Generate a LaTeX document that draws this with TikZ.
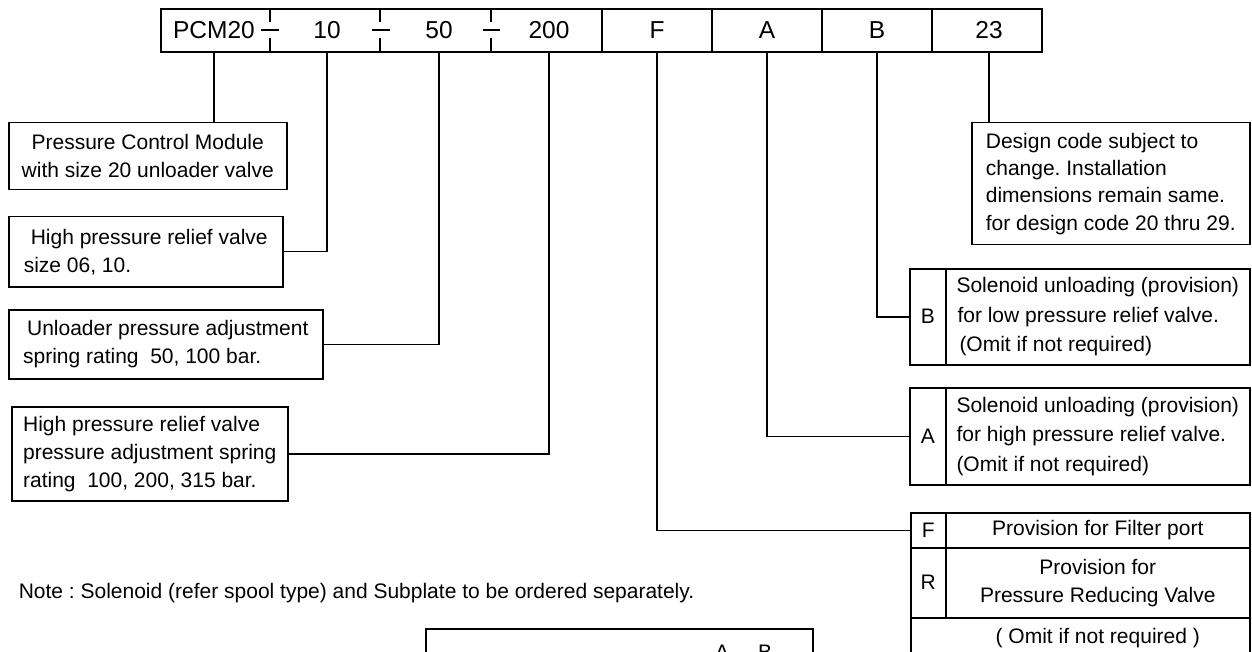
\documentclass[tikz,border=0pt]{standalone}
\usepackage{fontspec}
\setmainfont{Liberation Sans}
\usetikzlibrary{positioning, calc}
\frenchspacing

\tikzset{
  code/.style = {inner sep=0pt, minimum height=43pt, font=\fontsize{24.5}{28}\selectfont},
  infobox/.style = {draw, anchor=north west, inner sep=0pt, align=left},
  centerbox/.style = {draw, anchor=north west, inner sep=0pt, align=center},
  letterbox/.style = {draw, anchor=north west, inner sep=0pt},
  link/.style = {draw},
}

\begin{document}
\begin{tikzpicture}[x=1pt, y=-1pt, font=\fontsize{21}{28}\selectfont, line width=1.5pt]
	\useasboundingbox (0,0) rectangle (1252,652);
	\clip (0,0) rectangle (1252,652);

	% ordering code bar
	\draw (161,9) rectangle (1042,52);
	\draw (270,9) -- (270,22) (270,38) -- (270,52) (261,30) -- (279,30);
	\draw (380,9) -- (380,22) (380,38) -- (380,52) (372,30) -- (390,30);
	\draw (491,9) -- (491,22) (491,38) -- (491,52) (483,30) -- (500,30);
	\draw (602,9) -- (602,52);
	\draw (712,9) -- (712,52);
	\draw (822,9) -- (822,52);
	\draw (932,9) -- (932,52);

	\node[code] (cPCM) at (214,30.5) {PCM20};
	\node[code] (cHP)  at (327,30.5) {10};
	\node[code] (cUL)  at (439,30.5) {50};
	\node[code] (cSP)  at (549,30.5) {200};
	\node[code] (cF)   at (657,30.5) {F};
	\node[code] (cA)   at (767,30.5) {A};
	\node[code] (cB)   at (877,30.5) {B};
	\node[code] (cDC)  at (989,30.5) {23};

	% left hand boxes
	\node[centerbox, minimum width=278pt, minimum height=67pt] (PCM) at (8,122)
		{Pressure Control Module\\with size 20 unloader valve};
	\node[infobox, minimum width=274pt, minimum height=70pt] (HPRV) at (8,216)
		{\hspace*{7pt}High pressure relief valve\\size 06, 10.};
	\node[infobox, minimum width=314pt, minimum height=69pt] (ULP) at (8,309)
		{\hspace*{4pt}Unloader pressure adjustment\\spring rating\ \ 50, 100 bar.};
	\node[infobox, minimum width=276pt, minimum height=94pt] (HPSP) at (11,406)
		{High pressure relief valve\\pressure adjustment spring\\rating\ \ 100, 200, 315 bar.};

	% right hand boxes
	\node[infobox, minimum width=278pt, minimum height=122pt,
		font=\fontsize{21}{27.3}\selectfont] (DC) at (971,122)
		{Design code subject to\\change. Installation\\dimensions remain same.\\for design code 20 thru 29.};

	\node[letterbox, minimum width=36pt, minimum height=96pt] (LB) at (909,268) {B};
	\node[infobox, minimum width=304pt, minimum height=96pt,
		font=\fontsize{21}{29.5}\selectfont] (SB) at (945,268)
		{Solenoid unloading (provision)\\\hspace*{1pt}for low pressure relief valve.\\\hspace*{3pt}(Omit if not required)};

	\node[letterbox, minimum width=36pt, minimum height=97pt] (LA) at (909,387) {A};
	\node[infobox, minimum width=304pt, minimum height=97pt,
		font=\fontsize{21}{29.5}\selectfont] (SA) at (945,387)
		{Solenoid unloading (provision)\\for high pressure relief valve.\\(Omit if not required)};

	% filter / reducing valve table
	\node[letterbox, minimum width=35pt, minimum height=35pt] (LF) at (910,512) {F};
	\node[centerbox, minimum width=304pt, minimum height=35pt] (TF) at (945,512)
		{Provision for Filter port};
	\node[letterbox, minimum width=35pt, minimum height=70pt] (LR) at (910,547) {R};
	\node[centerbox, minimum width=304pt, minimum height=70pt] (TR) at (945,547)
		{Provision for\\Pressure Reducing Valve};
	\node[letterbox, minimum width=339pt, minimum height=40pt] (TO) at (910,617)
		{\hspace*{35pt}( Omit if not required )};

	% note and subplate
	\node[anchor=west, inner sep=0pt] (note) at (18,593)
		{Note : Solenoid (refer spool type) and Subplate to be ordered separately.};
	\node[letterbox, minimum width=387pt, minimum height=60pt] (sub) at (425,628) {};
	\node[inner sep=0pt] (subA) at (722,652) {A};
	\node[inner sep=0pt] (subB) at (765,652) {B};

	% leaders
	\draw[link] (cPCM.south) -- (cPCM.south |- PCM.north);
	\draw[link] (cHP.south) |- (HPRV.east);
	\draw[link] (cUL.south) |- (ULP.east);
	\draw[link] (cSP.south) |- (HPSP.east);
	\draw[link] (cF.south) |- (LF.west);
	\draw[link] (cA.south) |- (LA.west);
	\draw[link] (cB.south) |- (LB.west);
	\draw[link] (cDC.south) -- (cDC.south |- DC.north);

\end{tikzpicture}
\end{document}
